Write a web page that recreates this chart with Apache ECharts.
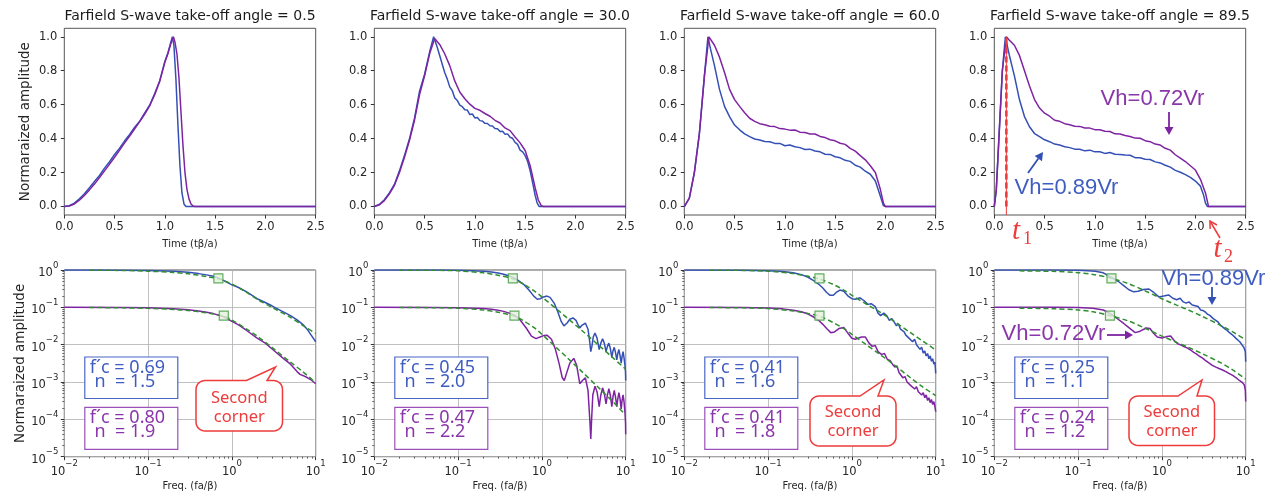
<!DOCTYPE html>
<html><head><meta charset="utf-8">
<script src="https://cdn.jsdelivr.net/npm/echarts@6/dist/echarts.min.js"></script>
<style>html,body{margin:0;padding:0;background:#fff}#c{width:1277px;height:498px}</style>
</head><body><div id="c"></div>
<script>
// ---------------- DATA ----------------
const angleTitles = ['Farfield S-wave take-off angle = 0.5','Farfield S-wave take-off angle = 30.0','Farfield S-wave take-off angle = 60.0','Farfield S-wave take-off angle = 89.5'];
const timeTicks = [0,0.5,1.0,1.5,2.0,2.5];
const ampTicks = [0,0.2,0.4,0.6,0.8,1.0];

// top row: time (tβ/a), normalized amplitude
const t05Blue = [[0,0],[0.05,0.005],[0.1,0.02],[0.15,0.045],[0.2,0.075],[0.25,0.11],[0.3,0.147],[0.35,0.183],[0.4,0.226],[0.45,0.264],[0.5,0.307],[0.55,0.344],[0.6,0.387],[0.65,0.424],[0.7,0.467],[0.75,0.503],[0.8,0.552],[0.85,0.598],[0.9,0.667],[0.95,0.743],[1.0,0.855],[1.03,0.905],[1.06,0.97],[1.075,1.0],[1.09,0.95],[1.11,0.75],[1.13,0.48],[1.15,0.24],[1.17,0.08],[1.19,0.015],[1.21,0],[2.5,0]];
const t05Purple = [[0,0],[0.05,0.003],[0.1,0.015],[0.15,0.037],[0.2,0.065],[0.25,0.098],[0.3,0.132],[0.35,0.17],[0.4,0.21],[0.45,0.25],[0.5,0.29],[0.55,0.332],[0.6,0.375],[0.65,0.415],[0.7,0.458],[0.75,0.5],[0.8,0.545],[0.85,0.595],[0.9,0.66],[0.95,0.74],[1.0,0.85],[1.03,0.9],[1.06,0.96],[1.085,1.0],[1.1,0.97],[1.12,0.9],[1.14,0.76],[1.16,0.56],[1.18,0.36],[1.2,0.2],[1.22,0.1],[1.24,0.045],[1.26,0.015],[1.28,0.003],[1.3,0],[2.5,0]];
const t30Blue = [[0,0],[0.05,0.012],[0.1,0.04],[0.15,0.08],[0.2,0.13],[0.25,0.21],[0.3,0.3],[0.35,0.4],[0.4,0.52],[0.45,0.68],[0.5,0.78],[0.55,0.91],[0.59,1.0],[0.625,0.94],[0.65,0.89],[0.675,0.84],[0.7,0.79],[0.725,0.752],[0.75,0.705],[0.775,0.683],[0.8,0.64],[0.825,0.625],[0.85,0.597],[0.875,0.588],[0.9,0.57],[0.925,0.568],[0.95,0.542],[0.975,0.545],[1.0,0.522],[1.025,0.524],[1.05,0.506],[1.075,0.504],[1.1,0.49],[1.125,0.489],[1.15,0.476],[1.175,0.474],[1.2,0.46],[1.225,0.458],[1.25,0.442],[1.275,0.443],[1.3,0.426],[1.325,0.428],[1.35,0.408],[1.375,0.402],[1.4,0.378],[1.425,0.366],[1.45,0.332],[1.475,0.322],[1.5,0.3],[1.525,0.265],[1.55,0.21],[1.575,0.14],[1.6,0.065],[1.62,0.02],[1.64,0],[2.5,0]];
const t30Purple = [[0,0],[0.05,0.01],[0.1,0.035],[0.15,0.075],[0.2,0.125],[0.25,0.2],[0.3,0.29],[0.35,0.39],[0.4,0.51],[0.45,0.66],[0.5,0.77],[0.55,0.9],[0.6,0.99],[0.61,1.0],[0.65,0.955],[0.7,0.9],[0.75,0.83],[0.8,0.74],[0.85,0.675],[0.9,0.635],[0.95,0.603],[1.0,0.578],[1.05,0.567],[1.1,0.548],[1.15,0.532],[1.2,0.508],[1.25,0.492],[1.3,0.463],[1.35,0.447],[1.4,0.41],[1.45,0.375],[1.5,0.33],[1.55,0.24],[1.6,0.11],[1.63,0.04],[1.66,0.005],[1.68,0],[2.5,0]];
const t60Blue = [[0,0],[0.05,0.05],[0.1,0.2],[0.15,0.43],[0.2,0.77],[0.235,1.0],[0.26,0.93],[0.3,0.83],[0.35,0.69],[0.4,0.59],[0.45,0.53],[0.5,0.48],[0.55,0.452],[0.6,0.428],[0.65,0.412],[0.7,0.398],[0.75,0.392],[0.8,0.383],[0.85,0.382],[0.9,0.372],[0.95,0.372],[1.0,0.358],[1.05,0.362],[1.1,0.352],[1.15,0.347],[1.2,0.336],[1.25,0.338],[1.3,0.327],[1.35,0.322],[1.4,0.308],[1.45,0.307],[1.5,0.293],[1.55,0.287],[1.6,0.272],[1.65,0.266],[1.7,0.243],[1.75,0.232],[1.8,0.208],[1.85,0.19],[1.9,0.15],[1.95,0.06],[1.98,0.005],[2.0,0],[2.5,0]];
const t60Purple = [[0,0],[0.05,0.05],[0.1,0.2],[0.15,0.43],[0.2,0.77],[0.245,1.0],[0.3,0.95],[0.35,0.88],[0.4,0.79],[0.45,0.69],[0.5,0.63],[0.55,0.59],[0.6,0.552],[0.65,0.52],[0.7,0.502],[0.75,0.488],[0.8,0.482],[0.85,0.473],[0.9,0.471],[0.95,0.459],[1.0,0.456],[1.05,0.45],[1.1,0.451],[1.15,0.438],[1.2,0.436],[1.25,0.427],[1.3,0.427],[1.35,0.413],[1.4,0.406],[1.45,0.393],[1.5,0.387],[1.55,0.373],[1.6,0.366],[1.65,0.343],[1.7,0.326],[1.75,0.3],[1.8,0.275],[1.85,0.24],[1.9,0.2],[1.95,0.1],[1.98,0.02],[2.0,0],[2.5,0]];
const t895Blue = [[0,0],[0.02,0.1],[0.05,0.45],[0.08,0.8],[0.11,1.0],[0.15,0.89],[0.2,0.77],[0.25,0.63],[0.3,0.53],[0.35,0.47],[0.4,0.43],[0.45,0.412],[0.5,0.393],[0.55,0.382],[0.6,0.368],[0.65,0.362],[0.7,0.352],[0.75,0.347],[0.8,0.338],[0.85,0.337],[0.9,0.328],[0.95,0.332],[1.0,0.322],[1.05,0.323],[1.1,0.313],[1.15,0.318],[1.2,0.308],[1.25,0.307],[1.3,0.303],[1.35,0.302],[1.4,0.288],[1.45,0.287],[1.5,0.278],[1.55,0.277],[1.6,0.263],[1.65,0.257],[1.7,0.243],[1.75,0.232],[1.8,0.213],[1.85,0.202],[1.9,0.188],[1.95,0.172],[2.0,0.15],[2.05,0.12],[2.08,0.07],[2.1,0.02],[2.12,0],[2.5,0]];
const t895Purple = [[0,0],[0.02,0.1],[0.05,0.45],[0.08,0.8],[0.12,1.0],[0.15,0.98],[0.2,0.95],[0.25,0.89],[0.3,0.8],[0.35,0.71],[0.4,0.63],[0.45,0.58],[0.5,0.55],[0.55,0.532],[0.6,0.508],[0.65,0.502],[0.7,0.488],[0.75,0.482],[0.8,0.473],[0.85,0.472],[0.9,0.463],[0.95,0.462],[1.0,0.453],[1.05,0.452],[1.1,0.443],[1.15,0.442],[1.2,0.428],[1.25,0.427],[1.3,0.418],[1.35,0.412],[1.4,0.403],[1.45,0.402],[1.5,0.388],[1.55,0.382],[1.6,0.368],[1.65,0.362],[1.7,0.343],[1.75,0.332],[1.8,0.305],[1.85,0.285],[1.9,0.265],[1.95,0.24],[2.0,0.215],[2.05,0.16],[2.1,0.08],[2.13,0],[2.5,0]];
const t1Time = 0.12;

// bottom row: frequency (fa/β), normalized amplitude spectra
const f05Blue = [[0.01,1.0],[0.02,0.998],[0.05,0.99],[0.1,0.975],[0.2,0.93],[0.3,0.87],[0.4,0.8],[0.5,0.74],[0.6,0.68],[0.7,0.6],[0.8,0.52],[0.9,0.45],[1.0,0.4],[1.2,0.34],[1.5,0.26],[2.0,0.17],[2.5,0.135],[3.0,0.11],[4.0,0.078],[5.0,0.06],[6.0,0.046],[7.0,0.035],[8.0,0.025],[9.0,0.017],[10,0.012]];
const f05Purple = [[0.01,0.1],[0.05,0.099],[0.1,0.097],[0.2,0.092],[0.3,0.086],[0.4,0.08],[0.5,0.074],[0.6,0.068],[0.8,0.056],[1.0,0.042],[1.2,0.034],[1.5,0.024],[2.0,0.015],[2.5,0.011],[3.0,0.0078],[4.0,0.0045],[5.0,0.003],[6.0,0.0019],[6.5,0.0016],[7.0,0.0015],[8.0,0.0013],[9.0,0.0011],[10,0.0009]];
const f05FitBlue = [[0.02,0.99],[0.05,0.97],[0.1,0.93],[0.2,0.86],[0.3,0.79],[0.5,0.67],[0.69,0.58],[1.0,0.42],[1.5,0.25],[2.0,0.165],[3.0,0.1],[5.0,0.054],[7.0,0.033],[10,0.02]];
const f05FitPurple = [[0.02,0.099],[0.05,0.097],[0.1,0.094],[0.2,0.088],[0.3,0.082],[0.5,0.071],[0.8,0.058],[1.0,0.046],[1.5,0.026],[2.0,0.017],[3.0,0.0085],[5.0,0.0034],[7.0,0.0019],[10,0.00095]];
const f30Blue = [[0.01,1.0],[0.05,0.995],[0.1,0.98],[0.15,0.96],[0.2,0.93],[0.25,0.89],[0.3,0.83],[0.35,0.77],[0.4,0.7],[0.45,0.63],[0.5,0.56],[0.6,0.42],[0.7,0.29],[0.8,0.2],[0.88,0.165],[0.95,0.17],[1.05,0.19],[1.15,0.2],[1.25,0.185],[1.4,0.13],[1.55,0.075],[1.7,0.042],[1.83,0.032],[2.0,0.038],[2.15,0.048],[2.35,0.052],[2.55,0.045],[2.7,0.034],[2.83,0.028],[3.0,0.033],[3.3,0.038],[3.55,0.026],[3.72,0.012],[3.83,0.0065],[3.95,0.009],[4.1,0.016],[4.3,0.0205],[4.55,0.015],[4.83,0.0074],[5.05,0.011],[5.3,0.0144],[5.55,0.011],[5.83,0.0065],[6.05,0.009],[6.3,0.011],[6.55,0.008],[6.83,0.0046],[7.05,0.0068],[7.3,0.0085],[7.55,0.0062],[7.83,0.0039],[8.05,0.0058],[8.3,0.0074],[8.55,0.0052],[8.83,0.0032],[9.05,0.0048],[9.3,0.0065],[9.55,0.0045],[9.83,0.0026],[9.95,0.0018],[10,0.0011]];
const f30Purple = [[0.01,0.1],[0.05,0.0995],[0.1,0.098],[0.2,0.093],[0.25,0.089],[0.3,0.084],[0.35,0.078],[0.4,0.071],[0.47,0.062],[0.55,0.046],[0.65,0.028],[0.75,0.017],[0.85,0.0145],[0.95,0.016],[1.05,0.0175],[1.15,0.018],[1.3,0.014],[1.45,0.0075],[1.6,0.0032],[1.75,0.0013],[1.85,0.0011],[1.95,0.0016],[2.15,0.0032],[2.4,0.0043],[2.6,0.0028],[2.83,0.0009],[3.05,0.0011],[3.3,0.0013],[3.55,0.0006],[3.75,0.00008],[3.83,0.00003],[3.92,0.0001],[4.05,0.00045],[4.3,0.00077],[4.55,0.00055],[4.83,0.00022],[5.05,0.00045],[5.3,0.0007],[5.55,0.0005],[5.83,0.00026],[6.05,0.00045],[6.3,0.00066],[6.55,0.00045],[6.83,0.00022],[7.05,0.0004],[7.3,0.0006],[7.55,0.0004],[7.83,0.00022],[8.05,0.00036],[8.3,0.00052],[8.55,0.00036],[8.83,0.00019],[9.05,0.00032],[9.3,0.00045],[9.55,0.0003],[9.83,0.00014],[9.95,0.00008],[10,0.00004]];
const f30FitBlue = [[0.02,0.99],[0.05,0.985],[0.1,0.95],[0.2,0.84],[0.3,0.72],[0.45,0.58],[0.6,0.42],[0.8,0.28],[1.0,0.19],[1.5,0.09],[2.0,0.052],[3.0,0.024],[5.0,0.0088],[7.0,0.0045],[10,0.0022]];
const f30FitPurple = [[0.02,0.099],[0.05,0.098],[0.1,0.095],[0.2,0.085],[0.3,0.074],[0.47,0.058],[0.6,0.044],[0.8,0.029],[1.0,0.019],[1.5,0.0082],[2.0,0.0045],[3.0,0.0019],[5.0,0.00063],[7.0,0.0003],[10,0.00013]];
const f60Blue = [[0.01,1.0],[0.05,0.99],[0.1,0.96],[0.15,0.91],[0.2,0.84],[0.25,0.75],[0.3,0.64],[0.35,0.52],[0.4,0.42],[0.45,0.33],[0.5,0.25],[0.55,0.21],[0.6,0.21],[0.65,0.25],[0.72,0.29],[0.8,0.27],[0.9,0.2],[1.0,0.17],[1.1,0.165],[1.25,0.18],[1.4,0.15],[1.55,0.12],[1.7,0.125],[1.9,0.105],[2.05,0.07],[2.2,0.06],[2.4,0.07],[2.6,0.06],[2.8,0.045],[3.0,0.05],[3.2,0.04],[3.4,0.032],[3.6,0.036],[3.8,0.026],[4.0,0.025],[4.2,0.022],[4.4,0.018],[4.6,0.02],[4.8,0.015],[5.0,0.016],[5.3,0.012],[5.6,0.014],[5.9,0.01],[6.2,0.011],[6.5,0.0075],[6.8,0.0085],[7.1,0.006],[7.4,0.0068],[7.7,0.005],[8.0,0.0058],[8.3,0.0042],[8.6,0.005],[8.9,0.0036],[9.2,0.0042],[9.5,0.003],[9.8,0.0034],[10,0.0017]];
const f60Purple = [[0.01,0.1],[0.05,0.099],[0.1,0.096],[0.15,0.091],[0.2,0.084],[0.25,0.076],[0.3,0.066],[0.35,0.055],[0.4,0.045],[0.45,0.035],[0.5,0.027],[0.56,0.021],[0.62,0.022],[0.7,0.027],[0.8,0.029],[0.9,0.02],[1.0,0.0148],[1.1,0.014],[1.3,0.016],[1.45,0.016],[1.6,0.011],[1.75,0.009],[1.9,0.0095],[2.05,0.0065],[2.25,0.0055],[2.45,0.0058],[2.65,0.004],[2.85,0.0038],[3.05,0.003],[3.25,0.0025],[3.45,0.0027],[3.65,0.0018],[3.85,0.0017],[4.05,0.0013],[4.3,0.0014],[4.55,0.001],[4.8,0.0011],[5.05,0.0008],[5.3,0.0009],[5.6,0.00065],[5.9,0.00075],[6.2,0.00055],[6.5,0.00062],[6.8,0.00045],[7.1,0.00052],[7.4,0.00038],[7.7,0.00045],[8.0,0.00032],[8.3,0.00038],[8.6,0.00028],[8.9,0.00034],[9.2,0.00025],[9.5,0.0003],[9.8,0.00022],[10,0.00016]];
const f60FitBlue = [[0.02,0.99],[0.05,0.975],[0.1,0.93],[0.2,0.8],[0.3,0.68],[0.41,0.57],[0.6,0.41],[0.8,0.29],[1.0,0.21],[1.5,0.12],[2.0,0.083],[3.0,0.046],[5.0,0.021],[7.0,0.0125],[10,0.0072]];
const f60FitPurple = [[0.02,0.099],[0.05,0.097],[0.1,0.093],[0.2,0.08],[0.3,0.068],[0.41,0.058],[0.6,0.039],[0.8,0.027],[1.0,0.019],[1.5,0.0098],[2.0,0.0062],[3.0,0.0032],[5.0,0.0013],[7.0,0.00074],[10,0.00043]];
const f895Blue = [[0.01,1.0],[0.05,0.995],[0.1,0.98],[0.13,0.96],[0.16,0.92],[0.2,0.84],[0.25,0.63],[0.3,0.5],[0.35,0.38],[0.4,0.3],[0.46,0.26],[0.52,0.27],[0.6,0.3],[0.7,0.31],[0.8,0.25],[0.92,0.19],[1.05,0.2],[1.2,0.215],[1.35,0.175],[1.5,0.16],[1.65,0.175],[1.8,0.14],[1.95,0.13],[2.1,0.14],[2.3,0.115],[2.5,0.11],[2.7,0.105],[2.9,0.085],[3.1,0.082],[3.3,0.075],[3.5,0.065],[3.7,0.062],[3.9,0.055],[4.1,0.05],[4.4,0.045],[4.7,0.04],[5.0,0.033],[5.3,0.03],[5.6,0.027],[6.0,0.024],[6.4,0.021],[6.8,0.019],[7.2,0.017],[7.6,0.015],[8.0,0.0135],[8.5,0.012],[9.0,0.01],[9.5,0.0085],[9.9,0.0065],[10,0.0035]];
const f895Purple = [[0.01,0.1],[0.05,0.1],[0.1,0.099],[0.15,0.095],[0.2,0.085],[0.25,0.065],[0.3,0.048],[0.35,0.037],[0.4,0.029],[0.48,0.021],[0.55,0.023],[0.65,0.028],[0.72,0.027],[0.8,0.02],[0.88,0.016],[1.0,0.015],[1.15,0.0165],[1.27,0.017],[1.4,0.013],[1.55,0.0105],[1.7,0.0098],[1.85,0.0088],[2.0,0.0082],[2.2,0.0072],[2.4,0.0062],[2.6,0.0056],[2.8,0.0049],[3.0,0.0045],[3.3,0.0038],[3.6,0.0033],[4.0,0.0028],[4.4,0.0025],[4.8,0.0023],[5.3,0.0021],[5.8,0.0019],[6.3,0.0017],[7.0,0.0015],[7.7,0.0013],[8.4,0.0011],[9.0,0.001],[9.6,0.00085],[9.9,0.0006],[10,0.0003]];
const f895FitBlue = [[0.02,0.95],[0.05,0.92],[0.1,0.85],[0.15,0.76],[0.25,0.6],[0.4,0.43],[0.6,0.29],[1.0,0.17],[1.5,0.115],[2.0,0.088],[3.0,0.058],[5.0,0.033],[7.0,0.022],[10,0.0135]];
const f895FitPurple = [[0.02,0.095],[0.05,0.092],[0.1,0.085],[0.15,0.076],[0.24,0.06],[0.4,0.043],[0.6,0.029],[1.0,0.017],[1.5,0.0115],[2.0,0.0088],[3.0,0.0058],[5.0,0.0033],[7.0,0.0021],[10,0.0012]];

// corner frequencies (f´c) and exponents (n); fit-marker levels
const fcBlue = [0.69,0.45,0.41,0.25];
const nBlue = ['1.5','2.0','1.6','1.1'];
const fcPurple = [0.80,0.47,0.41,0.24];
const nPurple = ['1.9','2.2','1.8','1.2'];
const markLevelBlue = 0.6, markLevelPurple = 0.06;

// ---------------- LAYOUT / STYLE ----------------
const FONT = 'DejaVu Sans';
const BLUE = '#3450b4', PURPLE = '#7e24a2', GREEN = '#2f8f2f', RED = '#ee3b3b';
const BLUE_T = '#3f5cc0', PURPLE_T = '#8a36aa';
const PL = [64.3, 374.3, 684.3, 994.3], PW = 251.4, PH = 186.7, TOP1 = 28.3, TOP2 = 270;
const topSets = [[t05Blue,t05Purple],[t30Blue,t30Purple],[t60Blue,t60Purple],[t895Blue,t895Purple]];
const botSets = [[f05Blue,f05Purple,f05FitBlue,f05FitPurple],[f30Blue,f30Purple,f30FitBlue,f30FitPurple],[f60Blue,f60Purple,f60FitBlue,f60FitPurple],[f895Blue,f895Purple,f895FitBlue,f895FitPurple]];

function powLabel(v){ const e = Math.round(Math.log10(v)); return '{b|10}{s|' + String(e).replace('-', '−') + '}'; }
const powRich = {
  b:{fontFamily:FONT, fontSize:11.5, color:'#262626', lineHeight:18, verticalAlign:'bottom'},
  s:{fontFamily:FONT, fontSize:8.5, color:'#262626', lineHeight:10, verticalAlign:'top'}
};
const xMinor = [], yMinor = [];
for (let d=-2; d<1; d++) for (let k=2;k<10;k++) xMinor.push(d+Math.log10(k));
for (let d=-5; d<0; d++) for (let k=2;k<10;k++) yMinor.push(d+Math.log10(k));

const labelStyle = {fontFamily: FONT, fontSize: 11.5, color: '#262626'};
const tickStyle = {color: '#333', width: 1};
const grids = [], xAxes = [], yAxes = [], series = [];
for (let i=0;i<4;i++) grids.push({left: PL[i], top: TOP1, width: PW, height: PH, show: true, borderColor: '#555', borderWidth: 1, backgroundColor: 'transparent'});
for (let i=0;i<4;i++) grids.push({left: PL[i], top: TOP2, width: PW, height: PH, show: true, borderColor: '#555', borderWidth: 1, backgroundColor: 'transparent'});

// top-row axes (0..3)
for (let i=0;i<4;i++){
  xAxes.push({type:'value', gridIndex:i, min:0, max:2.5, interval:0.5,
    axisLine:{show:false,onZero:false}, splitLine:{show:false},
    axisTick:{length:3.5, lineStyle:tickStyle},
    axisLabel:Object.assign({formatter:v=>v.toFixed(1), margin:6}, labelStyle),
    name:'Time (tβ/a)', nameLocation:'middle', nameGap:24,
    nameTextStyle:{fontFamily:FONT, fontSize:10, color:'#262626'}});
  yAxes.push({type:'value', gridIndex:i, min:-0.05, max:1.05,
    axisLine:{show:false,onZero:false}, splitLine:{show:false},
    axisTick:{customValues:ampTicks, length:3.5, lineStyle:tickStyle},
    axisLabel:Object.assign({customValues:ampTicks, formatter:v=>v.toFixed(1), margin:7}, labelStyle),
    name: i===0 ? 'Normaraized amplitude' : '', nameLocation:'middle', nameGap:32,
    nameTextStyle:{fontFamily:FONT, fontSize:13.5, color:'#262626'}});
}
// bottom-row main axes (4..7)
for (let i=0;i<4;i++){
  xAxes.push({type:'log', logBase:10, gridIndex:4+i, min:0.01, max:10,
    axisLine:{show:false,onZero:false},
    splitLine:{show:true, lineStyle:{color:'#b0b0b0', width:0.8}},
    axisTick:{length:3.5, lineStyle:tickStyle},
    axisLabel:{formatter:powLabel, margin:3, rich:powRich},
    name:'Freq. (fa/β)', nameLocation:'middle', nameGap:25,
    nameTextStyle:{fontFamily:FONT, fontSize:10, color:'#262626'}});
  yAxes.push({type:'log', logBase:10, gridIndex:4+i, min:0.00001, max:1,
    axisLine:{show:false,onZero:false},
    splitLine:{show:true, lineStyle:{color:'#b0b0b0', width:0.8}},
    axisTick:{length:3.5, lineStyle:tickStyle},
    axisLabel:{formatter:powLabel, margin:6, rich:powRich},
    name: i===0 ? 'Normaraized amplitude' : '', nameLocation:'middle', nameGap:32,
    nameTextStyle:{fontFamily:FONT, fontSize:13.5, color:'#262626'}});
}
// bottom-row minor tick axes (8..11), in log10 units
for (let i=0;i<4;i++){
  xAxes.push({type:'value', gridIndex:4+i, min:-2, max:1, position:'bottom',
    axisLine:{show:false,onZero:false}, splitLine:{show:false}, axisLabel:{show:false},
    axisTick:{show:true, customValues:xMinor, length:2, lineStyle:{color:'#444', width:0.8}}});
  yAxes.push({type:'value', gridIndex:4+i, min:-5, max:0, position:'left',
    axisLine:{show:false,onZero:false}, splitLine:{show:false}, axisLabel:{show:false},
    axisTick:{show:true, customValues:yMinor, length:2, lineStyle:{color:'#444', width:0.8}}});
}

function lineS(data, xi, yi, color, w, extra){
  return Object.assign({type:'line', xAxisIndex:xi, yAxisIndex:yi, data:data, showSymbol:false, symbol:'none',
    lineStyle:{color:color, width:w}, silent:true, z:3}, extra||{});
}
for (let i=0;i<4;i++){
  series.push(lineS(topSets[i][0], i, i, BLUE, 1.5));
  series.push(lineS(topSets[i][1], i, i, PURPLE, 1.5));
}
// t1 marker (top, 89.5 deg)
series.push(lineS([[t1Time,-0.05],[t1Time,1.0]], 3, 3, RED, 1, {z:4}));
series.push(lineS([[t1Time,0],[t1Time,1.0]], 3, 3, RED, 2.6, {z:4, lineStyle:{color:RED, width:2.6, type:[6,3]}}));

for (let i=0;i<4;i++){
  const g = 4+i;
  series.push(lineS(botSets[i][0], g, g, BLUE, 1.5));
  series.push(lineS(botSets[i][1], g, g, PURPLE, 1.5));
  series.push(lineS(botSets[i][2], g, g, GREEN, 1.5, {smooth:0.3, z:4, lineStyle:{color:GREEN, width:1.5, type:[5,3]}}));
  series.push(lineS(botSets[i][3], g, g, GREEN, 1.5, {smooth:0.3, z:4, lineStyle:{color:GREEN, width:1.5, type:[5,3]}}));
  series.push({type:'scatter', xAxisIndex:g, yAxisIndex:g, silent:true, z:5,
    data:[[fcBlue[i], markLevelBlue],[fcPurple[i], markLevelPurple]],
    symbol:'rect', symbolSize:9,
    itemStyle:{color:'#e4f1dc', borderColor:'#3d9a3d', borderWidth:1.2}});
}

// ---------------- ANNOTATIONS ----------------
const graphic = [];
function txt(x,y,text,font,fill,align){ graphic.push({type:'text', x:x, y:y, silent:true, z:100,
  style:{text:text, font:font, fill:fill, align:align||'center', verticalAlign:'middle'}}); }
function arrow(x1,y1,x2,y2,color,w,hl,hw,open){
  const dx=x2-x1, dy=y2-y1, L=Math.hypot(dx,dy), ux=dx/L, uy=dy/L, px=-uy, py=ux;
  const bx=x2-ux*hl, by=y2-uy*hl;
  graphic.push({type:'line', silent:true, z:100, shape:{x1:x1,y1:y1,x2: open?x2:bx, y2: open?y2:by}, style:{stroke:color, lineWidth:w}});
  if (open) {
    graphic.push({type:'polyline', silent:true, z:100, shape:{points:[[bx+px*hw,by+py*hw],[x2,y2],[bx-px*hw,by-py*hw]]}, style:{stroke:color, lineWidth:w, fill:null}});
  } else {
    graphic.push({type:'polygon', silent:true, z:100, shape:{points:[[x2,y2],[bx+px*hw,by+py*hw],[bx-px*hw,by-py*hw]]}, style:{fill:color}});
  }
}
function callout(x,y,w,h,r,b1,tx,ty,b2,t1y,t2y){
  const pts=[[x+r,y],[b1,y],[tx,ty],[b2,y],[x+w-r,y]];
  function arc(cx,cy,a0,a1){ for(let k=1;k<=8;k++){ const a=(a0+(a1-a0)*k/8)*Math.PI/180; pts.push([cx+r*Math.cos(a), cy+r*Math.sin(a)]); } }
  arc(x+w-r,y+r,-90,0); pts.push([x+w,y+h-r]);
  arc(x+w-r,y+h-r,0,90); pts.push([x+r,y+h]);
  arc(x+r,y+h-r,90,180); pts.push([x,y+r]);
  arc(x+r,y+r,180,270);
  graphic.push({type:'polygon', silent:true, z:90, shape:{points:pts}, style:{fill:'#fff', stroke:RED, lineWidth:1.5}});
  txt(x+w/2, t1y, 'Second', '16.5px "Noto Sans"', RED);
  txt(x+w/2, t2y, 'corner', '16.5px "Noto Sans"', RED);
}
for (let i=0;i<4;i++){
  txt(PL[i]+PW/2, 16.5, angleTitles[i], '14px "DejaVu Sans"', '#1a1a1a');
  const bx = PL[i]+20.5;
  graphic.push({type:'rect', silent:true, z:90, shape:{x:bx, y:357, width:93, height:41.5}, style:{fill:'#fff', stroke:'#4a66c4', lineWidth:1.2}});
  txt(bx+5, 367.5, 'f´c = ' + fcBlue[i].toFixed(2), '18px "Noto Sans"', BLUE_T, 'left');
  txt(bx+5, 382, ' n  = ' + nBlue[i], '18px "Noto Sans"', BLUE_T, 'left');
  graphic.push({type:'rect', silent:true, z:90, shape:{x:bx, y:407.3, width:93, height:42}, style:{fill:'#fff', stroke:'#9a52ba', lineWidth:1.2}});
  txt(bx+5, 417.5, 'f´c = ' + fcPurple[i].toFixed(2), '18px "Noto Sans"', PURPLE_T, 'left');
  txt(bx+5, 432, ' n  = ' + nPurple[i], '18px "Noto Sans"', PURPLE_T, 'left');
}
callout(196,380.5,86.5,50.5,9,246.5,275.5,367,267,398.5,417.5);
callout(810,396,86,50,9,860,884,380,878,412,431);
callout(1129,396,85.5,49.5,9,1178,1202,380,1197,412,431);

// top-right panel annotations
txt(1152.5, 98.5, 'Vh=0.72Vr', '22px "Liberation Sans"', PURPLE_T);
arrow(1169,112,1169,135,PURPLE,1.8,8,4.5,false);
txt(1066.5, 188, 'Vh=0.89Vr', '22px "Liberation Sans"', BLUE_T);
arrow(1028,173,1043,152,BLUE,1.8,8,4.5,false);
txt(1016, 231, 't', 'italic 29px "Liberation Serif"', RED);
txt(1027.5, 239, '1', '18px "Liberation Serif"', RED);
txt(1217.5, 249, 't', 'italic 29px "Liberation Serif"', RED);
txt(1228.5, 257, '2', '18px "Liberation Serif"', RED);
arrow(1220,238,1210,221,RED,1.5,7,4,true);
// bottom-right panel annotations
txt(1213.5, 278.5, 'Vh=0.89Vr', '22px "Liberation Sans"', BLUE_T);
arrow(1212,287,1212,305,BLUE,1.8,8,4.5,false);
txt(1053.5, 333.5, 'Vh=0.72Vr', '22px "Liberation Sans"', PURPLE_T);
arrow(1107,335,1133,335,PURPLE,1.8,8,4.5,false);

const chart = echarts.init(document.getElementById('c'), null, {renderer:'canvas'});
chart.setOption({animation:false, backgroundColor:'#fff', grid:grids, xAxis:xAxes, yAxis:yAxes, series:series, graphic:graphic});
</script></body></html>
